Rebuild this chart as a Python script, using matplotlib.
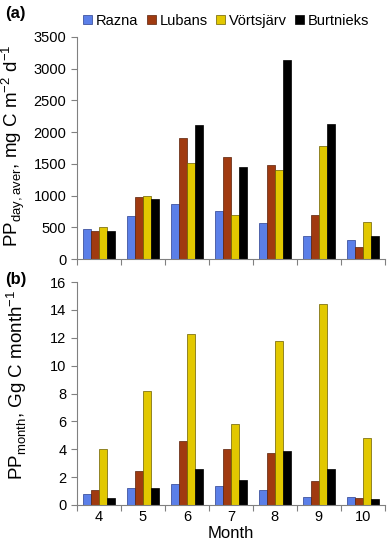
import numpy as np
import matplotlib
matplotlib.use("Agg")
import matplotlib.pyplot as plt

plt.rcParams['font.family'] = ['Liberation Sans', 'DejaVu Sans']

months = [4, 5, 6, 7, 8, 9, 10]
lakes = ['Razna', 'Lubans', 'Vörtsjärv', 'Burtnieks']
colors = ['#5B7FE8', '#A03A10', '#E2C800', '#000000']
edges = ['#2A3F8F', '#5A2008', '#6B5E00', '#000000']

# (a) daily average PP, mg C m-2 d-1
pp_day = {
    'Razna':     [470, 680, 860, 750, 570, 360, 300],
    'Lubans':    [440, 970, 1910, 1600, 1480, 690, 190],
    'Vörtsjärv': [500, 990, 1510, 690, 1410, 1780, 580],
    'Burtnieks': [440, 950, 2110, 1450, 3140, 2130, 370],
}
# (b) monthly PP, Gg C month-1
pp_month = {
    'Razna':     [0.8, 1.2, 1.5, 1.35, 1.05, 0.6, 0.55],
    'Lubans':    [1.05, 2.4, 4.6, 4.0, 3.7, 1.7, 0.5],
    'Vörtsjärv': [4.05, 8.2, 12.25, 5.8, 11.8, 14.4, 4.8],
    'Burtnieks': [0.5, 1.2, 2.55, 1.8, 3.9, 2.55, 0.45],
}

fig = plt.figure(figsize=(3.88, 5.5), dpi=100)
ax_a = fig.add_axes([0.198, 0.529, 0.794, 0.404])
ax_b = fig.add_axes([0.198, 0.082, 0.794, 0.405])

x = np.arange(len(months))
w = 0.185

def draw(ax, data):
    for i, lake in enumerate(lakes):
        ax.bar(x + (i - 1.5) * w, data[lake], w, color=colors[i],
               edgecolor=edges[i], linewidth=0.5, label=lake)
    ax.set_xlim(-0.5, len(months) - 0.5)
    ax.spines['top'].set_visible(False)
    ax.spines['right'].set_visible(False)
    ax.spines['left'].set_color('#808080')
    ax.spines['bottom'].set_color('#808080')
    ax.set_xticks(np.arange(len(months) + 1) - 0.5)
    ax.set_xticklabels([])
    ax.set_xticks(x, minor=True)
    ax.tick_params(axis='x', which='major', length=4, color='#808080')
    ax.tick_params(axis='x', which='minor', length=0, labelsize=10.5)
    ax.tick_params(axis='y', length=4, color='#808080', labelsize=10.5)

draw(ax_a, pp_day)
ax_a.set_ylim(0, 3500)
ax_a.set_yticks(range(0, 3501, 500))
ax_a.set_ylabel('PP$_{\\mathregular{day,aver}}$, mg C m$^{\\mathregular{-2}}$ d$^{\\mathregular{-1}}$',
                fontsize=13.5)
ax_a.yaxis.set_label_coords(-0.162, 0.51)
ax_a.legend(loc='upper center', bbox_to_anchor=(0.485, 1.13), ncol=4, frameon=False,
            fontsize=10.5, handlelength=0.6, handleheight=0.6, handletextpad=0.25,
            columnspacing=0.6, borderaxespad=0)

draw(ax_b, pp_month)
ax_b.set_ylim(0, 16)
ax_b.set_yticks(range(0, 17, 2))
ax_b.set_xticklabels([str(m) for m in months], minor=True)
ax_b.set_ylabel('PP$_{\\mathregular{month}}$, Gg C month$^{\\mathregular{-1}}$',
                fontsize=13.5)
ax_b.yaxis.set_label_coords(-0.155, 0.54)
ax_b.set_xlabel('Month', fontsize=12, labelpad=2)

fig.text(0.012, 0.975, '(a)', fontsize=12, fontweight='bold', va='center')
fig.text(0.012, 0.492, '(b)', fontsize=12, fontweight='bold', va='center')

fig.savefig('out.png', dpi=100)
